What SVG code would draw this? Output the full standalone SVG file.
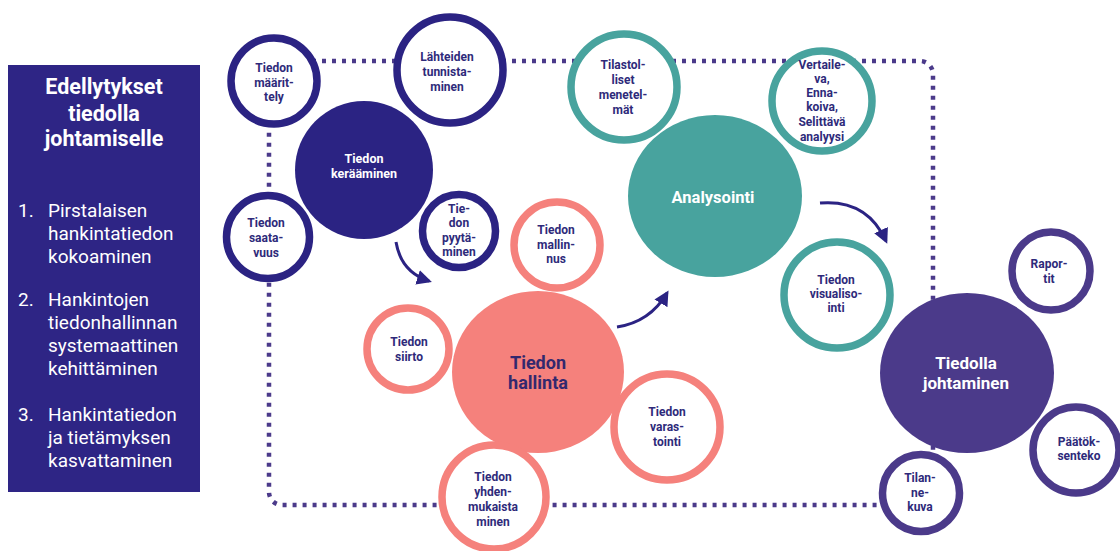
<svg xmlns="http://www.w3.org/2000/svg" width="1120" height="551" viewBox="0 0 1120 551">
  <defs>
    <style>
      .ring { fill: #ffffff; stroke-width: 7.5; }
      .navy { stroke: #2b2383; }
      .teal { stroke: #48a39e; }
      .pink { stroke: #f5817c; }
      .plum { stroke: #4b3a8a; }
      .lbl { font-family: Roboto, "Liberation Sans", sans-serif; font-weight: 700; font-size: 12px; fill: #2e2a7a; text-anchor: middle; }
      .big { font-family: Roboto, "Liberation Sans", sans-serif; font-weight: 700; text-anchor: middle; }
      .side { font-family: Roboto, "Liberation Sans", sans-serif; fill: #ffffff; }
      .frame { fill: none; stroke: #4b3a8a; stroke-width: 4.5; stroke-dasharray: 4 6; }
      .arrow { fill: none; stroke: #2b2383; stroke-width: 3; marker-end: url(#head); }
    </style>
    <marker id="head" viewBox="0 0 10 10" refX="8" refY="5" markerWidth="5" markerHeight="5" orient="auto" markerUnits="strokeWidth">
      <path d="M0,0 L10,5 L0,10 Z" fill="#2b2383"/>
    </marker>
  </defs>

  <rect width="1120" height="551" fill="#ffffff"/>

  <!-- Side panel -->
  <g id="edellytykset">
    <rect x="8" y="65" width="192" height="427" fill="#2e2585"/>
    <g class="side" font-weight="700" font-size="21.5" text-anchor="middle">
      <text x="104" y="94">Edellytykset</text>
      <text x="104" y="121">tiedolla</text>
      <text x="104" y="146">johtamiselle</text>
    </g>
    <g class="side" font-size="19">
      <text x="18" y="217">1.</text>
      <text x="48" y="217">Pirstalaisen</text>
      <text x="48" y="240">hankintatiedon</text>
      <text x="48" y="263">kokoaminen</text>
      <text x="18" y="306">2.</text>
      <text x="48" y="306">Hankintojen</text>
      <text x="48" y="329">tiedonhallinnan</text>
      <text x="48" y="352">systemaattinen</text>
      <text x="48" y="375">kehittäminen</text>
      <text x="18" y="421">3.</text>
      <text x="48" y="421">Hankintatiedon</text>
      <text x="48" y="444">ja tietämyksen</text>
      <text x="48" y="467">kasvattaminen</text>
    </g>
  </g>

  <!-- Connectors: dotted frame and flow arrows -->
  <g id="connectors">
    <rect class="frame" x="269" y="61" width="664" height="444" rx="13"/>
    <path class="arrow" d="M396,242 Q401,272 429,281"/>
    <path class="arrow" d="M617,327 Q650,322 667,293"/>
    <path class="arrow" d="M820,203 Q867,199 886,241"/>
  </g>

  <!-- Big phase circles -->
  <g id="tiedon-keraaminen">
    <circle cx="364" cy="170" r="69" fill="#2b2383"/>
    <text class="big" x="364" y="163" font-size="12.5" fill="#ffffff">Tiedon</text>
    <text class="big" x="364" y="178" font-size="12.5" fill="#ffffff">kerääminen</text>
  </g>
  <g id="tiedon-hallinta">
    <ellipse cx="538" cy="372" rx="86" ry="81" fill="#f5817c"/>
    <text class="big" x="538" y="369" font-size="18" fill="#33286e">Tiedon</text>
    <text class="big" x="538" y="389" font-size="18" fill="#33286e">hallinta</text>
  </g>
  <g id="analysointi">
    <ellipse cx="715" cy="196" rx="87" ry="81" fill="#48a39e"/>
    <text class="big" x="713" y="203" font-size="16.5" fill="#ffffff">Analysointi</text>
  </g>
  <g id="tiedolla-johtaminen">
    <ellipse cx="967" cy="373" rx="87" ry="80" fill="#4b3a8a"/>
    <text class="big" x="966" y="369" font-size="17" fill="#ffffff">Tiedolla</text>
    <text class="big" x="966" y="389" font-size="17" fill="#ffffff">johtaminen</text>
  </g>

  <!-- Collection sub-steps -->
  <g id="tiedon-maarittely">
    <circle class="ring navy" cx="274" cy="81" r="43"/>
    <text class="lbl" x="274" y="72">Tiedon</text>
    <text class="lbl" x="274" y="87">määrit-</text>
    <text class="lbl" x="274" y="101">tely</text>
  </g>
  <g id="lahteiden-tunnistaminen">
    <circle class="ring navy" cx="450" cy="70" r="53"/>
    <text class="lbl" x="447" y="61">Lähteiden</text>
    <text class="lbl" x="447" y="76">tunnista-</text>
    <text class="lbl" x="447" y="91">minen</text>
  </g>
  <g id="tiedon-saatavuus">
    <circle class="ring navy" cx="268" cy="237" r="41.5"/>
    <text class="lbl" x="266" y="227">Tiedon</text>
    <text class="lbl" x="266" y="242">saata-</text>
    <text class="lbl" x="266" y="257">vuus</text>
  </g>
  <g id="tiedon-pyytaminen">
    <circle class="ring navy" cx="459" cy="231" r="36.5"/>
    <text class="lbl" x="459" y="213">Tie-</text>
    <text class="lbl" x="459" y="227">don</text>
    <text class="lbl" x="459" y="242">pyytä-</text>
    <text class="lbl" x="459" y="256">minen</text>
  </g>

  <!-- Management sub-steps -->
  <g id="tiedon-mallinnus">
    <circle class="ring pink" cx="557" cy="245" r="43"/>
    <text class="lbl" x="556" y="234">Tiedon</text>
    <text class="lbl" x="556" y="249">mallin-</text>
    <text class="lbl" x="556" y="263">nus</text>
  </g>
  <g id="tiedon-siirto">
    <circle class="ring pink" cx="408" cy="349" r="41"/>
    <text class="lbl" x="409" y="346">Tiedon</text>
    <text class="lbl" x="409" y="361">siirto</text>
  </g>
  <g id="tiedon-varastointi">
    <circle class="ring pink" cx="667" cy="427" r="53"/>
    <text class="lbl" x="667" y="416">Tiedon</text>
    <text class="lbl" x="667" y="431">varas-</text>
    <text class="lbl" x="667" y="446">tointi</text>
  </g>
  <g id="tiedon-yhdenmukaistaminen">
    <circle class="ring pink" cx="494" cy="497" r="52"/>
    <text class="lbl" x="493" y="481">Tiedon</text>
    <text class="lbl" x="493" y="496">yhden-</text>
    <text class="lbl" x="493" y="511">mukaista</text>
    <text class="lbl" x="493" y="526">minen</text>
  </g>

  <!-- Analysis sub-steps -->
  <g id="tilastolliset-menetelmat">
    <circle class="ring teal" cx="624" cy="87" r="53"/>
    <text class="lbl" x="623" y="69">Tilastol-</text>
    <text class="lbl" x="623" y="84">liset</text>
    <text class="lbl" x="623" y="99">menetel-</text>
    <text class="lbl" x="623" y="114">mät</text>
  </g>
  <g id="analyysi">
    <circle class="ring teal" cx="822" cy="101" r="50"/>
    <text class="lbl" x="822" y="69">Vertaile-</text>
    <text class="lbl" x="822" y="83">va,</text>
    <text class="lbl" x="822" y="97">Enna-</text>
    <text class="lbl" x="822" y="111">koiva,</text>
    <text class="lbl" x="822" y="126">Selittävä</text>
    <text class="lbl" x="822" y="141">analyysi</text>
  </g>
  <g id="tiedon-visualisointi">
    <circle class="ring teal" cx="837" cy="295" r="53"/>
    <text class="lbl" x="836" y="284">Tiedon</text>
    <text class="lbl" x="836" y="298">visualiso-</text>
    <text class="lbl" x="836" y="312">inti</text>
  </g>

  <!-- Leadership sub-steps -->
  <g id="raportit">
    <circle class="ring plum" cx="1051" cy="271" r="39"/>
    <text class="lbl" x="1049" y="268">Rapor-</text>
    <text class="lbl" x="1049" y="283">tit</text>
  </g>
  <g id="paatoksenteko">
    <circle class="ring plum" cx="1076" cy="450" r="43"/>
    <text class="lbl" x="1079" y="446">Päätök-</text>
    <text class="lbl" x="1079" y="460">senteko</text>
  </g>
  <g id="tilannekuva">
    <circle class="ring plum" cx="921" cy="493" r="38.5"/>
    <text class="lbl" x="920" y="482">Tilan-</text>
    <text class="lbl" x="920" y="497">ne-</text>
    <text class="lbl" x="920" y="511">kuva</text>
  </g>
</svg>
